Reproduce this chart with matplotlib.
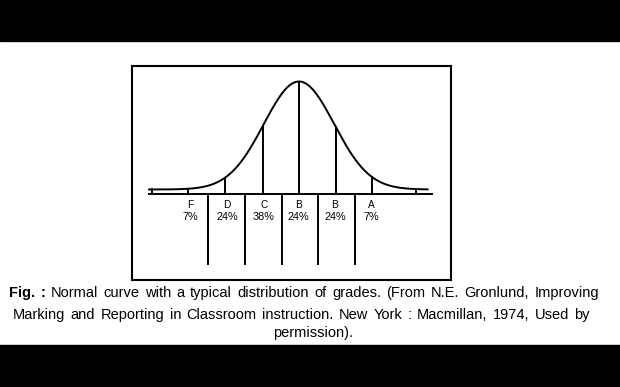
import numpy as np
import matplotlib
matplotlib.use("Agg")
import matplotlib.pyplot as plt
from matplotlib.patches import Rectangle

# ---- data ----
grades = ["F", "D", "C", "B", "B", "A"]
percents = ["7%", "24%", "38%", "24%", "24%", "7%"]
label_pos = [-2.94, -1.95, -0.95, -0.02, 0.97, 1.96]      # in sigma units
upper_cuts = [-2.99, -2.0, -0.98, 0.0, 1.0, 1.96]          # verticals under curve
lower_cuts = [-2.45, -1.45, -0.47, 0.52, 1.5]              # verticals below baseline
tail_ticks = [-3.98, 3.15]
curve_range = (-4.08, 3.5)
baseline_range = (-4.05, 3.6)
peak_height = 108.0
tail_offset = 4.0
curve_width = 0.95
lower_depth = -70.5

caption1_bold = ["Fig.", ":"]
caption1 = "Normal curve with a typical distribution of grades. (From N.E. Gronlund, Improving"
caption2 = "Marking and Reporting in Classroom instruction. New York : Macmillan, 1974, Used by"
caption3 = "permission)."

W, H = 620, 387
fig = plt.figure(figsize=(W / 100, H / 100), dpi=100)
fig.patch.set_facecolor("white")

# black bands
fig.add_artist(Rectangle((0, 1 - 40.7 / H), 1, 40.7 / H, transform=fig.transFigure,
                         color="black", zorder=0))
fig.add_artist(Rectangle((0, 0), 1, (H - 345) / H, transform=fig.transFigure,
                         color="black", zorder=0))

# axes = the framed box
bx0, bx1, by0, by1 = 131.7, 451.0, 66.0, 280.0
ax = fig.add_axes([bx0 / W, 1 - by1 / H, (bx1 - bx0) / W, (by1 - by0) / H])
sig = 37.0
cx = 299.0
base_y = 193.5
ax.set_xlim((bx0 - cx) / sig, (bx1 - cx) / sig)
ax.set_ylim(base_y - by1, base_y - by0)
ax.set_xticks([])
ax.set_yticks([])
for s in ax.spines.values():
    s.set_linewidth(1.5)
    s.set_color("black")

def curve(z):
    z = np.asarray(z, dtype=float)
    return peak_height * np.exp(-0.5 * (z / curve_width) ** 2) + tail_offset

lw = 1.4
zz = np.linspace(curve_range[0], curve_range[1], 600)
ax.plot(zz, curve(zz), color="black", lw=lw, solid_capstyle="butt")
ax.plot(baseline_range, [0, 0], color="black", lw=lw)
for z in upper_cuts + tail_ticks:
    ax.plot([z, z], [0, curve(z)], color="black", lw=lw)
for z in lower_cuts:
    ax.plot([z, z], [0, lower_depth], color="black", lw=lw)

for z, g, p in zip(label_pos, grades, percents):
    ax.text(z, -11.5, g, ha="center", va="center", fontsize=7.3,
            family="Liberation Sans")
    ax.text(z, -23.5, p, ha="center", va="center", fontsize=7.8,
            family="Liberation Sans")

# caption (justified lines)
fs = 10.5
fam = "Liberation Sans"
fig.canvas.draw()
r = fig.canvas.get_renderer()

def justify(words, weights, x0, x1, yc):
    arts = []
    widths = []
    for w, wt in zip(words, weights):
        t = fig.text(0, 1 - yc / H, w, ha="left", va="center", fontsize=fs,
                     family=fam, weight=wt)
        arts.append(t)
        widths.append(t.get_window_extent(r).width)
    gap = (x1 - x0 - sum(widths)) / (len(words) - 1)
    x = x0
    for t, wd in zip(arts, widths):
        t.set_x(x / W)
        x += wd + gap

w1 = caption1_bold + caption1.split()
wt1 = ["bold"] * len(caption1_bold) + ["normal"] * len(caption1.split())
justify(w1, wt1, 9.3, 599.0, 293)
w2 = caption2.split()
justify(w2, ["normal"] * len(w2), 12.7, 590.0, 315)
fig.text(313 / W, 1 - 333 / H, caption3, ha="center", va="center",
         fontsize=fs, family=fam)

fig.savefig("out.png", dpi=100, facecolor="white")
